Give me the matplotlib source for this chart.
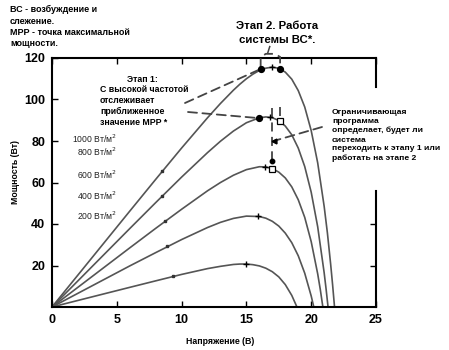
import matplotlib; matplotlib.use("Agg")
import matplotlib.pyplot as plt

plt.rcParams['font.family'] = ['Liberation Sans', 'DejaVu Sans']

# P-V curves (V, W)
v1000 = [0, 2, 4, 6, 8, 10, 12, 13, 14, 14.5, 15, 15.5, 16, 16.5, 17, 17.5, 18, 18.5, 19, 19.5, 20, 20.5, 21, 21.25, 21.5, 21.65, 21.8]
p1000 = [0, 15.4, 30.8, 46.2, 61.5, 76.6, 91.2, 98.1, 104.5, 107.4, 110.0, 112.2, 114.0, 115.1, 115.6, 115.0, 113.2, 109.8, 104.3, 96.4, 85.0, 69.5, 48.5, 35.7, 20.7, 10.8, 0]
v800 = [0, 2, 4, 6, 8, 10, 12, 13, 14, 15, 16, 16.5, 17, 17.5, 18, 18.5, 19, 19.5, 20, 20.5, 21, 21.15, 21.3]
p800 = [0, 12.6, 25.2, 37.8, 50.3, 62.6, 74.4, 79.9, 84.8, 88.8, 91.2, 91.6, 91.2, 89.9, 87.2, 83.0, 76.6, 67.7, 55.3, 38.7, 16.5, 8.6, 0]
v600 = [0, 2, 4, 6, 8, 10, 12, 13, 14, 15, 16, 16.5, 17, 17.5, 18, 18.5, 19, 19.5, 20, 20.5, 20.7, 20.9]
p600 = [0, 9.5, 19.0, 28.5, 37.9, 47.1, 56.0, 60.0, 63.5, 66.2, 67.6, 67.5, 66.7, 65.0, 62.2, 57.9, 51.7, 43.2, 31.5, 16.0, 8.5, 0]
v400 = [0, 2, 4, 6, 8, 10, 12, 13, 14, 15, 16, 16.5, 17, 17.5, 18, 18.5, 19, 19.5, 20, 20.2]
p400 = [0, 6.6, 13.2, 19.8, 26.2, 32.5, 38.3, 40.8, 42.7, 43.8, 43.6, 42.8, 41.3, 39.0, 35.6, 31.0, 24.7, 16.3, 5.3, 0]
v200 = [0, 2, 4, 6, 8, 10, 11, 12, 13, 14, 14.5, 15, 15.5, 16, 16.5, 17, 17.5, 18, 18.5, 18.9]
p200 = [0, 3.16, 6.32, 9.47, 12.6, 15.7, 17.1, 18.5, 19.6, 20.5, 20.7, 20.7, 20.4, 19.8, 18.7, 17.0, 14.5, 10.8, 5.6, 0]
curves = [(v1000, p1000), (v800, p800), (v600, p600), (v400, p400), (v200, p200)]
labels = ["1000 Вт/м$^2$", "800 Вт/м$^2$", "600 Вт/м$^2$", "400 Вт/м$^2$", "200 Вт/м$^2$"]

# markers
dot_v = [16.1, 17.6, 16.0]; dot_p = [114.7, 114.7, 91.0]
plus_v = [17.0, 16.8, 16.4, 15.9, 15.0]; plus_p = [115.7, 91.5, 67.5, 43.7, 20.6]
sq_v = [17.6, 17.0]; sq_p = [89.8, 66.3]
small_v = [8.5, 8.5, 8.7, 8.85, 9.3]; small_p = [65.5, 53.4, 41.3, 29.2, 14.7]
ctrl_v = [17.0, 17.0]; ctrl_p = [96, 70.4]

W, H = 449, 350
fig = plt.figure(figsize=(W/100, H/100), dpi=100)
ax = fig.add_axes([52/W, 1-307/H, 324/W, 249/H])

for v, p in curves:
    ax.plot(v, p, color="#555555", lw=1.2, zorder=2)
ax.plot(small_v, small_p, "s", ms=1.8, color="#333333", zorder=3)
ax.plot(dot_v, dot_p, "o", ms=4.2, color="black", zorder=4)
ax.plot(plus_v, plus_p, "+", ms=5, mew=1.0, color="black", zorder=4)
ax.plot(sq_v, sq_p, "s", ms=5, mfc="white", mec="black", mew=0.9, zorder=5)

dash = dict(color="#444444", lw=1.3, ls=(0, (5, 3)))
ax.plot(ctrl_v, ctrl_p, zorder=3, **dash)
ax.plot(ctrl_v[-1], ctrl_p[-1], "o", ms=3.2, color="black", zorder=4)
# brackets over the MPP points
ax.plot([16.1, 16.1, 16.5, 17.2, 17.6, 17.6], [115.5, 120.5, 122, 122, 120.5, 115.5], clip_on=False, zorder=3, **dash)
ax.plot([16.65, 16.8], [122.5, 125.5], clip_on=False, color="#444444", lw=1.1)
ax.plot([17.6, 17.6], [92, 96.5], zorder=3, **dash)

def pix(x, y):
    return (x, H - y)

arr = dict(arrowstyle="-", color="#444444", lw=1.3, ls=(0, (5, 3)), shrinkA=0, shrinkB=0)
ax.annotate("", xy=(dot_v[0], dot_p[0]), xytext=pix(185, 103), textcoords="figure pixels", arrowprops=arr)
ax.annotate("", xy=(dot_v[2], dot_p[2]), xytext=pix(188, 112), textcoords="figure pixels", arrowprops=arr)
ax.annotate("", xy=(17.1, 80.0), xytext=pix(322, 127), textcoords="figure pixels", arrowprops=arr)
ax.plot([17.15], [80.0], "<", ms=3.5, color="black", zorder=4)

ax.set_xlim(0, 25); ax.set_ylim(0, 120)
ax.set_xticks(range(0, 26, 5)); ax.set_yticks(range(20, 121, 20))
ax.tick_params(direction="in", length=4, width=1, top=True, pad=5)
for t in ax.get_xticklabels() + ax.get_yticklabels():
    t.set_fontweight("bold"); t.set_fontsize(9)
for s in ["left", "bottom", "top"]:
    ax.spines[s].set_linewidth(1.5)
ax.spines["right"].set_visible(False)
ax.plot([1, 1], [0, 0.464], transform=ax.transAxes, color="black", lw=1.5, clip_on=False)
ax.plot([1, 1], [0.883, 1], transform=ax.transAxes, color="black", lw=1.5, clip_on=False)
ax2 = ax.twinx(); ax2.set_ylim(0, 120); ax2.set_yticks([20, 40]); ax2.set_yticklabels([])
ax2.tick_params(direction="in", length=4, width=1)
for s in ax2.spines.values():
    s.set_visible(False)

lab_y = [79.2, 72.8, 61.5, 51.8, 42.1]
for lab, y in zip(labels, lab_y):
    ax.text(5.0, y, lab, ha="right", va="baseline", fontsize=6.2, color="#222222")

def ft(x, y, s, **kw):
    fig.text(x/W, 1-y/H, s, **kw)

ft(10, 5, "ВС - возбуждение и\nслежение.\nМРР - точка максимальной\nмощности.", va="top", ha="left",
   fontsize=6.5, fontweight="bold", linespacing=1.35)
ft(277, 33, "Этап 2. Работа\nсистемы ВС*.", ha="center", va="center", fontsize=8.2,
   fontweight="bold", linespacing=1.6)
ft(142, 79, "Этап 1:", ha="center", va="center", fontsize=6.3, fontweight="bold")
ft(100, 106, "С высокой частотой\nотслеживает\nприближенное\nзначение МРР *", ha="left", va="center",
   fontsize=6.3, fontweight="bold", linespacing=1.3)
ft(332, 135.5, "Ограничивающая\nпрограмма\nопределает, будет ли\nсистема\nпереходить к этапу 1 или\nработать на этапе 2",
   ha="left", va="center", fontsize=6.1, fontweight="bold", linespacing=1.4)
ft(220, 342, "Напряжение (В)", ha="center", va="center", fontsize=6.3, fontweight="bold")
ft(15, 172, "Мощность (Вт)", ha="center", va="center", rotation=90, fontsize=6.3, fontweight="bold")

fig.savefig("out.png", dpi=100)
